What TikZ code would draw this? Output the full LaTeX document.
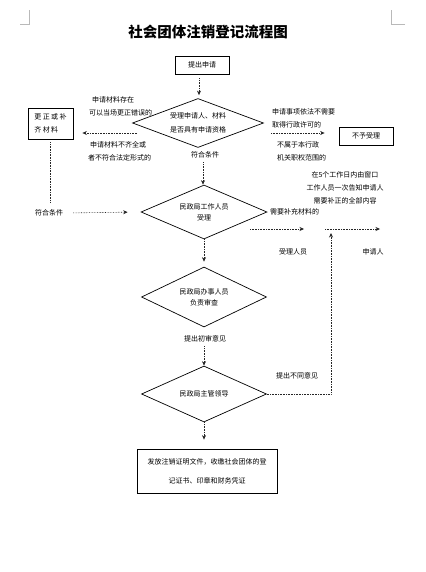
\documentclass[tikz,border=0pt]{standalone}
\usepackage{fontspec}
\newfontfamily\cjk{Noto Sans CJK SC}
\usetikzlibrary{arrows.meta, shapes.geometric}
\tikzset{
	stepbox/.style={draw, line width=0.8pt, inner sep=0pt, align=center,
		font=\cjk\fontsize{7}{13}\selectfont},
	decision/.style={diamond, draw, aspect=2.6, line width=0.7pt, inner sep=0pt, align=center,
		font=\cjk\fontsize{7}{11}\selectfont},
	note/.style={inner sep=0pt, align=left, font=\cjk\fontsize{7}{13}\selectfont},
	flowarr/.style={-{Stealth[length=4.5pt, width=4pt]}, densely dotted, line width=0.6pt, black!85},
	flowline/.style={densely dotted, line width=0.6pt, black!85},
}
\begin{document}
\begin{tikzpicture}[x=1pt, y=-1pt]
	\useasboundingbox (0,0) rectangle (425,572);

	% page corner marks
	\draw[gray!55, line width=0.5pt] (20,24) -- (29,24) -- (29,10);
	\draw[gray!55, line width=0.5pt] (405,24) -- (391,24) -- (391,10);

	\node[font=\cjk\bfseries\fontsize{14.5}{16}\selectfont] (title) at (208,32) {社会团体注销登记流程图};

	% main column
	\node[stepbox, minimum width=54, minimum height=18] (apply) at (202,65) {提出申请};
	\node[decision, minimum width=131, minimum height=49, font=\cjk\fontsize{7}{14}\selectfont]
		(d1) at (198,123) {受理申请人、材料\\是否具有申请资格};
	\node[note] (fit1) at (205,155) {符合条件};
	\node[decision, minimum width=126, minimum height=54] (d2) at (204,212) {民政局工作人员\\受理};
	\node[decision, minimum width=125, minimum height=60] (d3) at (204,297) {民政局办事人员\\负责审查};
	\node[note] (first) at (205,339) {提出初审意见};
	\node[decision, minimum width=125, minimum height=56] (d4) at (204,394) {民政局主管领导};
	\node[stepbox, minimum width=140, minimum height=44, font=\cjk\fontsize{7}{19}\selectfont]
		(done) at (207,471) {发放注销证明文件，收缴社会团体的登\\记证书、印章和财务凭证};

	% left branch
	\node[stepbox, minimum width=45, minimum height=31, align=left,
		font=\cjk\addfontfeature{LetterSpace=20}\fontsize{7}{13}\selectfont] (fix) at (50.5,123.5) {更正或补\\齐材料};
	\node[note, anchor=west] (fixup) at (89,106) {\hspace*{3pt}申请材料存在\\可以当场更正错误的};
	\node[note, anchor=west] (fixdn) at (88,151) {\hspace*{2pt}申请材料不齐全或\\者不符合法定形式的};
	\node[note] (fit2) at (49,213) {符合条件};

	% right branch
	\node[stepbox, minimum width=54, minimum height=18] (deny) at (366,136) {不予受理};
	\node[note, anchor=west] (denyup) at (272,118) {申请事项依法不需要\\取得行政许可的};
	\node[note, anchor=west] (denydn) at (277,151) {不属于本行政\\机关职权范围的};

	% supplement notice
	\node[note, anchor=west] (more) at (270,212) {需要补充材料的};
	\node[note, align=center] (notice) at (345,188) {在5个工作日内由窗口\\工作人员一次告知申请人\\需要补正的全部内容};
	\node[note] (staff) at (293,252) {受理人员};
	\node[note] (appl) at (373,252) {申请人};
	\node[note] (diff) at (297,376) {提出不同意见};

	\coordinate (rejL) at (137,133);
	\coordinate (rejR) at (271,133);
	\coordinate (tellA) at (250,229);
	\coordinate (tellB) at (304,229);
	\coordinate (tellC) at (325,229);
	\coordinate (tellD) at (380,229);
	\coordinate (back) at (331,233);

	\draw[flowarr, shorten <=4pt, shorten >=3pt] (apply.south -| 199,0) -- (d1.north -| 199,0);
	\draw[flowarr, shorten >=9pt] (rejL) -- (rejL -| fix.east);
	\draw[flowarr, shorten >=14pt] (rejR) -- (rejR -| deny.west);
	\draw[flowarr, shorten <=4pt] (fit1.south -| 203,0) -- (d2.north -| 203,0);
	\draw[flowline, shorten <=3pt, shorten >=7pt] (fix.south) -- (fix.south |- fit2.north);
	\draw[flowarr, shorten <=10pt, shorten >=13pt] (fit2.east) -- (d2.west);
	\draw[flowarr, shorten >=5pt] (d2.south) -- (d3.north);
	\draw[flowarr, shorten <=4pt] (first.south -| d4.north) -- (d4.north);
	\draw[flowarr, shorten >=9pt] (d4.south) -- (d4.south |- done.north);
	\draw[flowarr] (d4.east) -| (back);
	\draw[flowarr] (tellA) -- (tellB);
	\draw[flowarr] (tellC) -- (tellD);
\end{tikzpicture}
\end{document}
